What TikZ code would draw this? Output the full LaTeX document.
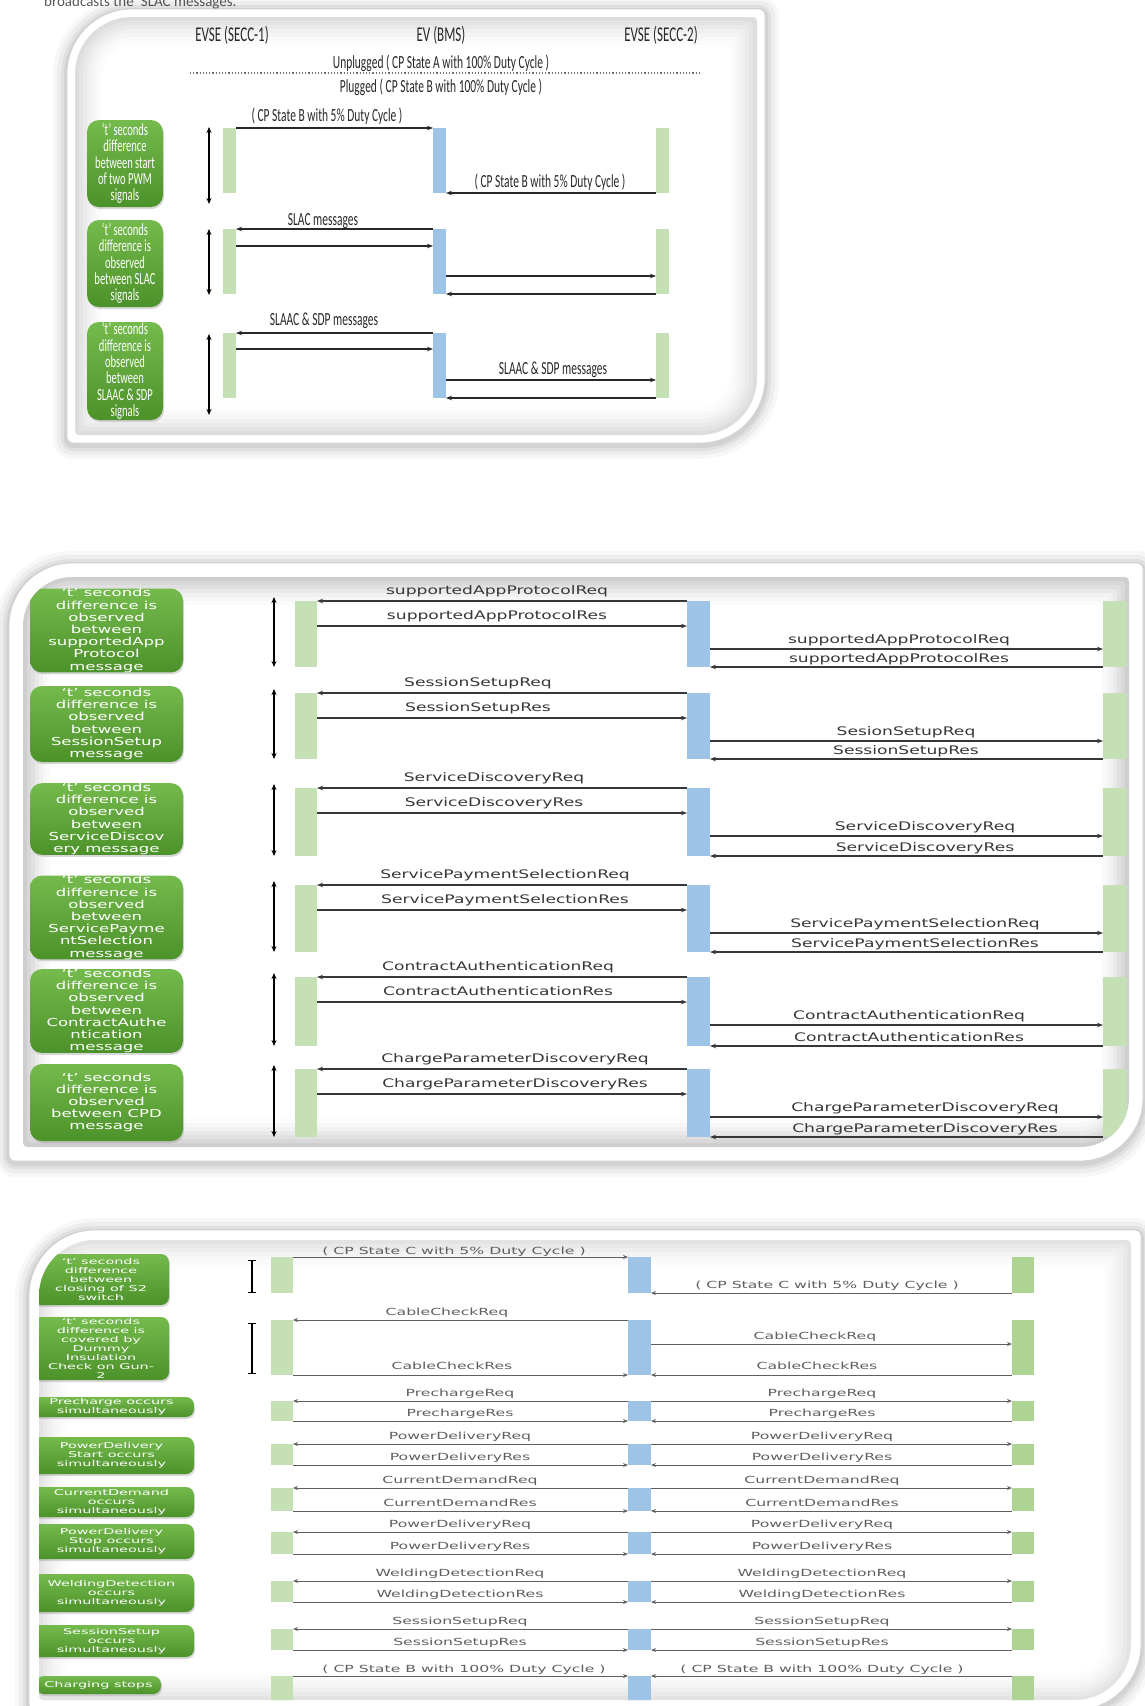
\documentclass[tikz,border=0pt]{standalone}
\usepackage{fontspec}
\setmainfont{Carlito}
\newfontfamily\condf[FakeStretch=0.62]{Carlito}
\newfontfamily\wideb[FakeStretch=1.45]{DejaVu Sans}
\newfontfamily\widebx[FakeStretch=1.5]{DejaVu Sans}
\newfontfamily\widec[FakeStretch=1.6]{DejaVu Sans}
\newfontfamily\widecx[FakeStretch=1.8]{DejaVu Sans}
\usetikzlibrary{arrows.meta,shadows,calc}
\definecolor{gtop}{RGB}{116,186,76}
\definecolor{gbot}{RGB}{76,146,42}
\definecolor{evsebar}{RGB}{197,224,180}
\definecolor{evsetwo}{RGB}{174,212,148}
\definecolor{evbar}{RGB}{157,195,230}
\definecolor{txta}{RGB}{40,40,40}
\definecolor{txtb}{RGB}{55,55,55}
\definecolor{txtc}{RGB}{95,95,95}

\newcommand\pnlpath[6]{({(#1)},{(#2)+(#5)}) .. controls ({(#1)},{(#2)+0.448*(#5)}) and ({(#1)+0.448*(#5)},{(#2)}) .. ({(#1)+(#5)},{(#2)}) -- ({(#3)-(#6)},{(#2)}) .. controls ({(#3)-0.448*(#6)},{(#2)}) and ({(#3)},{(#2)+0.448*(#6)}) .. ({(#3)},{(#2)+(#6)}) -- ({(#3)},{(#4)-(#5)}) .. controls ({(#3)},{(#4)-0.448*(#5)}) and ({(#3)-0.448*(#5)},{(#4)}) .. ({(#3)-(#5)},{(#4)}) -- ({(#1)+(#6)},{(#4)}) .. controls ({(#1)+0.448*(#6)},{(#4)}) and ({(#1)},{(#4)-0.448*(#6)}) .. ({(#1)},{(#4)-(#6)}) -- cycle}

\newcommand\drawpnl[7]{%
  \foreach \sv/\ov in {14/0.03,10/0.04,6/0.05,3/0.06}{\fill[black,opacity=\ov] \pnlpath{#1-\sv}{#2-\sv+2}{#3+\sv}{#4+\sv+2}{#5+\sv}{6+\sv};}
  \fill[white] \pnlpath{#1}{#2}{#3}{#4}{#5}{6};
  \draw[black!18,line width=0.7pt] \pnlpath{#1}{#2}{#3}{#4}{#5}{6};
  \foreach \dv/\cv in {0/24,4/19,8/15,12/11,16/7,20/4,24/2,28/0}{\pgfmathsetmacro\vcol{\cv*#7}\fill[black!\vcol] \pnlpath{#1+#6+\dv}{#2+#6+\dv}{#3-#6-\dv}{#4-#6-\dv}{#5-#6-\dv}{4};}
}

\begin{document}
\begin{tikzpicture}[x=1pt,y=-1pt,
  gbox/.style={rounded corners=12pt, top color=gtop, bottom color=gbot, text=white, align=center, inner sep=0pt, drop shadow={opacity=0.3,shadow xshift=1pt,shadow yshift=-2pt}},
  gboxA/.style={gbox, font=\condf\fontsize{17}{16.3}\selectfont},
  gboxB/.style={gbox, font=\widebx\fontsize{11}{12.2}\selectfont},
  gboxC/.style={gbox, rounded corners=8pt, font=\widecx\fontsize{8}{9}\selectfont},
  barE/.style={fill=evsebar, inner sep=0pt, outer sep=0pt, anchor=north west},
  barV/.style={fill=evbar, inner sep=0pt, outer sep=0pt, anchor=north west},
  barW/.style={fill=evsetwo, inner sep=0pt, outer sep=0pt, anchor=north west},
  msgA/.style={draw=txta, line width=1.2pt, -{Stealth[length=6pt,width=4.5pt]}},
  msgB/.style={draw=txtb, line width=1.1pt, -{Stealth[length=6pt,width=4.5pt]}},
  msgC/.style={draw=txtc, line width=1pt, -{Stealth[length=5pt,width=4pt]}},
  dblarr/.style={line width=1.4pt, {Stealth[length=6pt,width=5pt]}-{Stealth[length=6pt,width=5pt]}},
  ibar/.style={line width=1.4pt, {Bar[width=8pt]}-{Bar[width=8pt]}},
  hdrA/.style={font=\condf\fontsize{21}{22}\selectfont, text=txta, inner sep=0pt},
  lblA/.style={font=\condf\fontsize{18.5}{20}\selectfont, text=txta, inner sep=0pt, anchor=base},
  lblB/.style={font=\wideb\fontsize{11.8}{13}\selectfont, text=txtb, inner sep=0pt, anchor=base},
  lblC/.style={font=\widec\fontsize{9.8}{11}\selectfont, text=txtc, inner sep=0pt, anchor=base}]
\useasboundingbox (0,0) rectangle (1145,1706);
\fill[white] (0,0) rectangle (1145,1706);
\node[anchor=base west, font=\fontsize{15}{17}\selectfont, text=black!65, inner sep=0pt] (intro) at (44,6) {broadcasts the ‘SLAC messages.};

% ================= Panel 1 =================
\drawpnl{67}{9}{765}{443}{65}{8}{0.55}
\node[hdrA] (h1) at (232,35) {EVSE (SECC-1)};
\node[hdrA] (h2) at (441,35) {EV (BMS)};
\node[hdrA] (h3) at (661,35) {EVSE (SECC-2)};
\node[lblA] (unp) at (441,68) {Unplugged ( CP State A with 100\% Duty Cycle )};
\coordinate (dotl) at (190,73); \coordinate (dotr) at (702,73);
\draw[dotted, line width=1.2pt, black!55] (dotl) -- (dotr);
\node[lblA] (plg) at (441,92) {Plugged ( CP State B with 100\% Duty Cycle )};

\node[gboxA, minimum width=76, minimum height=87] (p1g1) at (125,163.5) {‘t’ seconds\\difference\\between start\\of two PWM\\signals};
\node[gboxA, minimum width=76, minimum height=87] (p1g2) at (125,263.5) {‘t’ seconds\\difference is\\observed\\between SLAC\\signals};
\node[gboxA, minimum width=76, minimum height=98] (p1g3) at (125,371) {‘t’ seconds\\difference is\\observed\\between\\SLAAC \& SDP\\signals};

\foreach \i/\T/\B in {1/127/204,2/229/295,3/334/415}{
  \coordinate (p1ta\i) at (209,\T); \coordinate (p1tb\i) at (209,\B);
  \draw[dblarr] (p1ta\i) -- (p1tb\i);
}
\foreach \i/\T in {1/128,2/229,3/333}{
  \node[barE, minimum width=13, minimum height=65] (p1e\i) at (223,\T) {};
  \node[barV, minimum width=13, minimum height=65] (p1v\i) at (433,\T) {};
  \node[barE, minimum width=13, minimum height=65] (p1w\i) at (656,\T) {};
}
\node[lblA] (p1l1) at (327,121) {( CP State B with 5\% Duty Cycle )};
\draw[msgA] (p1e1.north east) -- (p1v1.north west);
\node[lblA] (p1l2) at (550,187) {( CP State B with 5\% Duty Cycle )};
\draw[msgA] (p1w1.south west) -- (p1v1.south east);
\node[lblA] (p1l3) at (323,225) {SLAC messages};
\draw[msgA] (p1v2.north west) -- (p1e2.north east);
\draw[msgA] ($(p1e2.north east)+(0,17)$) -- ($(p1v2.north west)+(0,17)$);
\draw[msgA] ($(p1v2.north east)+(0,47)$) -- ($(p1w2.north west)+(0,47)$);
\draw[msgA] (p1w2.south west) -- (p1v2.south east);
\node[lblA] (p1l4) at (324,325) {SLAAC \& SDP messages};
\draw[msgA] (p1v3.north west) -- (p1e3.north east);
\draw[msgA] ($(p1e3.north east)+(0,16)$) -- ($(p1v3.north west)+(0,16)$);
\node[lblA] (p1l5) at (553,374) {SLAAC \& SDP messages};
\draw[msgA] ($(p1v3.north east)+(0,47)$) -- ($(p1w3.north west)+(0,47)$);
\draw[msgA] (p1w3.south west) -- (p1v3.south east);

% ================= Panel 2 =================
\drawpnl{9}{563}{1143}{1161}{63}{14}{0.8}
\begin{scope}
\clip \pnlpath{23}{577}{1129}{1147}{49}{4};
\foreach \i/\ya/\yb/\txt in {
  1/589/672/{‘t’ seconds\\difference is\\observed\\between\\supportedApp\\Protocol\\message},
  2/686/762/{‘t’ seconds\\difference is\\observed\\between\\SessionSetup\\message},
  3/784/854/{‘t’ seconds\\difference is\\observed\\between\\ServiceDiscov\\ery message},
  4/879/956/{‘t’ seconds\\difference is\\observed\\between\\ServicePayme\\ntSelection\\message},
  5/972/1050/{‘t’ seconds\\difference is\\observed\\between\\ContractAuthe\\ntication\\message},
  6/1064/1141/{‘t’ seconds\\difference is\\observed\\between CPD\\message}}{
  \node[gboxB, minimum width=153, minimum height={\yb-\ya}] (p2g\i) at (106.5,{(\ya+\yb)/2}) {\txt};
}
\foreach \i/\T/\B/\la/\lb/\lc/\ld/\xl/\xr in {
  1/601/667/supportedAppProtocolReq/supportedAppProtocolRes/supportedAppProtocolReq/supportedAppProtocolRes/497/899,
  2/693/759/SessionSetupReq/SessionSetupRes/SesionSetupReq/SessionSetupRes/478/906,
  3/788/856/ServiceDiscoveryReq/ServiceDiscoveryRes/ServiceDiscoveryReq/ServiceDiscoveryRes/494/925,
  4/885/952/ServicePaymentSelectionReq/ServicePaymentSelectionRes/ServicePaymentSelectionReq/ServicePaymentSelectionRes/505/915,
  5/977/1046/ContractAuthenticationReq/ContractAuthenticationRes/ContractAuthenticationReq/ContractAuthenticationRes/498/909,
  6/1069/1137/ChargeParameterDiscoveryReq/ChargeParameterDiscoveryRes/ChargeParameterDiscoveryReq/ChargeParameterDiscoveryRes/515/925}{
  \coordinate (p2ta\i) at (274,{\T-4}); \coordinate (p2tb\i) at (274,\B);
  \draw[dblarr] (p2ta\i) -- (p2tb\i);
  \node[barE, minimum width=22, minimum height={\B-\T}] (p2e\i) at (295,\T) {};
  \node[barV, minimum width=23, minimum height={\B-\T}] (p2v\i) at (687,\T) {};
  \node[barE, minimum width=24, minimum height={\B-\T}] (p2w\i) at (1103,\T) {};
  \node[lblB] (p2a\i) at (\xl,{\T-7}) {\la};
  \draw[msgB] (p2v\i.north west) -- (p2e\i.north east);
  \node[lblB] (p2b\i) at (\xl,{\T+18}) {\lb};
  \draw[msgB] ($(p2e\i.north east)+(0,25)$) -- ($(p2v\i.north west)+(0,25)$);
  \node[lblB] (p2c\i) at (\xr,{\T+42}) {\lc};
  \draw[msgB] ($(p2v\i.north east)+(0,48)$) -- ($(p2w\i.north west)+(0,48)$);
  \node[lblB] (p2d\i) at (\xr,{\B-5}) {\ld};
  \draw[msgB] (p2w\i.south west) -- (p2v\i.south east);
}
\end{scope}

% ================= Panel 3 =================
\drawpnl{29}{1230}{1141}{1710}{66}{10}{0.45}
\begin{scope}
\clip \pnlpath{39}{1240}{1131}{1700}{56}{4};
\foreach \i/\ya/\yb/\xc/\bw/\txt in {
  1/1254/1305/101/136/{‘t’ seconds\\difference\\between\\closing of S2\\switch},
  2/1317/1380/101/136/{‘t’ seconds\\difference is\\covered by\\Dummy\\Insulation\\Check on Gun-\\2},
  3/1397/1417/111.5/165/{Precharge occurs\\simultaneously},
  4/1437/1474/111.5/165/{PowerDelivery\\Start occurs\\simultaneously},
  5/1487/1517/111.5/165/{CurrentDemand\\occurs\\simultaneously},
  6/1524/1559/111.5/165/{PowerDelivery\\Stop occurs\\simultaneously},
  7/1574/1612/111.5/165/{WeldingDetection\\occurs\\simultaneously},
  8/1625/1657/111.5/165/{SessionSetup\\occurs\\simultaneously},
  9/1676/1694/98.5/125/{Charging stops}}{
  \node[gboxC, minimum width=\bw, minimum height={\yb-\ya}] (p3g\i) at (\xc,{(\ya+\yb)/2}) {\txt};
}
% I-bars
\coordinate (p3ta1) at (252,1260); \coordinate (p3tb1) at (252,1293);
\draw[ibar] (p3ta1) -- (p3tb1);
\coordinate (p3ta2) at (252,1323); \coordinate (p3tb2) at (252,1374);
\draw[ibar] (p3ta2) -- (p3tb2);
% bars
\foreach \i/\T/\B in {1/1257/1293,2/1320/1375,3/1401/1421,4/1444/1465,5/1488/1511,6/1532/1554,7/1581/1602,8/1629/1650,9/1676/1712}{
  \node[barE, minimum width=22, minimum height={\B-\T}] (p3e\i) at (271,\T) {};
  \node[barV, minimum width=23, minimum height={\B-\T}] (p3v\i) at (628,\T) {};
  \node[barW, minimum width=22, minimum height={\B-\T}] (p3w\i) at (1012,\T) {};
}
% row 1
\node[lblC] (p3l1) at (454,1254) {( CP State C with 5\% Duty Cycle )};
\draw[msgC] (p3e1.north east) -- (p3v1.north west);
\node[lblC] (p3l2) at (827,1288) {( CP State C with 5\% Duty Cycle )};
\draw[msgC] (p3w1.south west) -- (p3v1.south east);
% row 2
\node[lblC] (p3l3) at (447,1315) {CableCheckReq};
\draw[msgC] (p3v2.north west) -- (p3e2.north east);
\node[lblC] (p3l4) at (815,1339) {CableCheckReq};
\draw[msgC] ($(p3v2.north east)+(0,24)$) -- ($(p3w2.north west)+(0,24)$);
\node[lblC] (p3l5) at (452,1369) {CableCheckRes};
\draw[msgC] (p3e2.south east) -- (p3v2.south west);
\node[lblC] (p3l6) at (817,1369) {CableCheckRes};
\draw[msgC] (p3w2.south west) -- (p3v2.south east);
% rows 3-8
\foreach \i/\T/\B/\la/\lb in {3/1401/1421/PrechargeReq/PrechargeRes,4/1444/1465/PowerDeliveryReq/PowerDeliveryRes,5/1488/1511/CurrentDemandReq/CurrentDemandRes,6/1532/1554/PowerDeliveryReq/PowerDeliveryRes,7/1581/1602/WeldingDetectionReq/WeldingDetectionRes,8/1629/1650/SessionSetupReq/SessionSetupRes}{
  \node[lblC] (p3a\i) at (460,{\T-5}) {\la};
  \node[lblC] (p3b\i) at (822,{\T-5}) {\la};
  \node[lblC] (p3c\i) at (460,{\B-5}) {\lb};
  \node[lblC] (p3d\i) at (822,{\B-5}) {\lb};
  \draw[msgC] (p3v\i.north west) -- (p3e\i.north east);
  \draw[msgC] (p3v\i.north east) -- (p3w\i.north west);
  \draw[msgC] (p3e\i.south east) -- (p3v\i.south west);
  \draw[msgC] (p3w\i.south west) -- (p3v\i.south east);
}
% row 9
\node[lblC] (p3l7) at (464,1672) {( CP State B with 100\% Duty Cycle )};
\draw[msgC] (p3e9.north east) -- (p3v9.north west);
\node[lblC] (p3l8) at (822,1672) {( CP State B with 100\% Duty Cycle )};
\draw[msgC] (p3w9.north west) -- (p3v9.north east);
\end{scope}
\end{tikzpicture}
\end{document}
